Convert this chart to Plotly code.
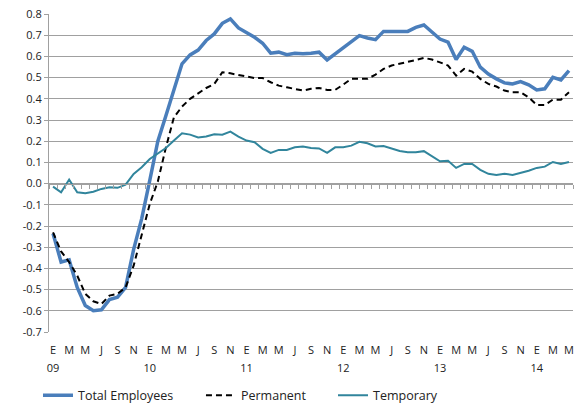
import plotly.graph_objects as go

month_letters = ["E", "F", "M", "A", "M", "J", "J", "A", "S", "O", "N", "D"]
years = ["09", "10", "11", "12", "13", "14"]

total = [-0.235, -0.37, -0.36, -0.49, -0.575, -0.60, -0.595, -0.547, -0.536, -0.49, -0.31, -0.165,
         0.015, 0.20, 0.32, 0.44, 0.565, 0.607, 0.63, 0.675, 0.706, 0.756, 0.777, 0.734,
         0.714, 0.69, 0.662, 0.615, 0.62, 0.608, 0.615, 0.612, 0.615, 0.62, 0.583, 0.612,
         0.64, 0.671, 0.698, 0.687, 0.679, 0.718, 0.718, 0.718, 0.718, 0.737, 0.748, 0.715,
         0.682, 0.667, 0.585, 0.643, 0.624, 0.549, 0.517, 0.494, 0.475, 0.470, 0.481, 0.466,
         0.442, 0.447, 0.501, 0.489, 0.533]

permanent = [-0.23, -0.32, -0.37, -0.434, -0.52, -0.555, -0.568, -0.528, -0.52, -0.49, -0.387, -0.237,
             -0.096, 0.01, 0.17, 0.313, 0.363, 0.40, 0.426, 0.451, 0.47, 0.525, 0.52, 0.514,
             0.505, 0.498, 0.498, 0.478, 0.462, 0.454, 0.447, 0.439, 0.447, 0.451, 0.442, 0.442,
             0.467, 0.494, 0.494, 0.494, 0.514, 0.541, 0.557, 0.565, 0.572, 0.583, 0.593, 0.585,
             0.572, 0.557, 0.509, 0.541, 0.528, 0.494, 0.47, 0.458, 0.439, 0.431, 0.431, 0.407,
             0.371, 0.371, 0.396, 0.396, 0.431]

temporary = [-0.014, -0.041, 0.019, -0.041, -0.046, -0.038, -0.025, -0.017, -0.02, -0.005, 0.046, 0.077,
             0.116, 0.14, 0.168, 0.203, 0.237, 0.231, 0.218, 0.222, 0.233, 0.231, 0.245, 0.222,
             0.203, 0.195, 0.164, 0.145, 0.159, 0.159, 0.171, 0.175, 0.168, 0.166, 0.145, 0.171,
             0.171, 0.179, 0.197, 0.19, 0.175, 0.177, 0.164, 0.154, 0.148, 0.148, 0.153, 0.13,
             0.105, 0.108, 0.074, 0.093, 0.093, 0.065, 0.046, 0.041, 0.046, 0.041, 0.05, 0.061,
             0.074, 0.08, 0.102, 0.093, 0.102]

n = len(total)
x = list(range(n))
label_idx = [i for i in x if i % 2 == 0]
month_text = [month_letters[i % 12] for i in label_idx]
year_idx = [i for i in x if i % 12 == 0]
year_text = [years[i // 12] for i in year_idx]
yticks = [round(-0.7 + 0.1 * k, 1) for k in range(16)]
ytext = [("%.1f" % v) if abs(v) > 1e-9 else "0.0" for v in yticks]

FONT = "Open Sans"
GRID = "#a0a0a0"
TXT = "#222222"
xr = [-0.5, n - 0.5]

fig = go.Figure()
fig.add_trace(go.Scatter(x=x, y=temporary, name="Temporary", mode="lines",
                         line=dict(color="#31859c", width=2), xaxis="x3", legend="legend3"))
fig.add_trace(go.Scatter(x=x, y=permanent, name="Permanent", mode="lines",
                         line=dict(color="#000000", width=2, dash="6px,4px"), xaxis="x2", legend="legend2"))
fig.add_trace(go.Scatter(x=x, y=total, name="Total Employees", mode="lines",
                         line=dict(color="#4a7ebb", width=3.5), xaxis="x", legend="legend"))

leg_common = dict(orientation="h", yanchor="middle", xanchor="left", y=-0.2,
                  bgcolor="rgba(0,0,0,0)", font=dict(family=FONT, size=12.5, color=TXT))

fig.update_layout(
    width=586, height=405,
    margin=dict(l=49, r=13, t=14, b=73, autoexpand=False),
    paper_bgcolor="white", plot_bgcolor="white",
    font=dict(family=FONT, size=11, color=TXT),
    showlegend=True,
    legend=dict(x=-0.021, **leg_common),
    legend2=dict(x=0.290, **leg_common),
    legend3=dict(x=0.542, **leg_common),
    xaxis=dict(range=xr, tickvals=label_idx, ticktext=month_text, showgrid=False,
               showline=False, ticks="", zeroline=False, ticklabelstandoff=10, automargin=False,
               tickfont=dict(family=FONT, size=11, color=TXT)),
    xaxis2=dict(range=xr, overlaying="x", anchor="free", position=0.7 / 1.5, side="bottom",
                tickvals=[i - 0.5 for i in range(n + 1)], ticks="outside", ticklen=4,
                tickcolor=GRID, showline=True, linecolor=GRID, linewidth=1, automargin=False,
                showticklabels=False, showgrid=False, zeroline=False),
    xaxis3=dict(range=xr, overlaying="x", anchor="y", side="bottom", automargin=False,
                tickvals=year_idx, ticktext=year_text, showgrid=False, showline=False,
                ticks="", zeroline=False, ticklabelstandoff=28,
                tickfont=dict(family=FONT, size=11, color=TXT)),
    yaxis=dict(range=[-0.7, 0.8], tickvals=yticks, ticktext=ytext, showgrid=True,
               gridcolor=GRID, gridwidth=1, showline=True, linecolor=GRID, ticks="outside",
               ticklen=4, tickcolor=GRID, zeroline=False, automargin=False,
               tickfont=dict(family=FONT, size=11, color=TXT)),
)

fig.write_html("out.html", config={"displayModeBar": False},
               post_script="document.body.style.margin='0';")
